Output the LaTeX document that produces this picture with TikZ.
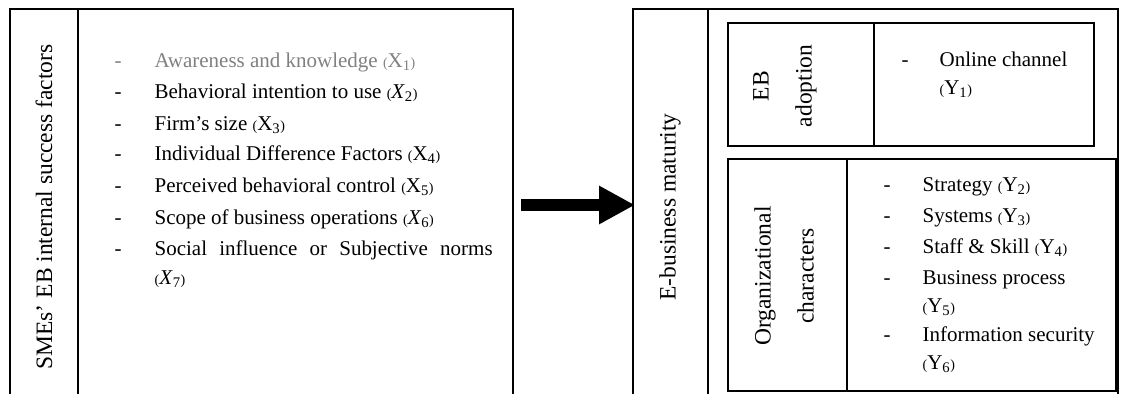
\documentclass[tikz,border=0pt]{standalone}
\usepackage{fontspec}
\setmainfont{Liberation Serif}
\usetikzlibrary{arrows.meta}

% small brackets round a variable, as in (X_1)
\newcommand{\smallbr}[1]{{\fontsize{14}{14}\selectfont#1}}
\newcommand{\subvar}[2]{\smallbr{(}#1\textsubscript{#2}\smallbr{)}}

\begin{document}
\begin{tikzpicture}[x=1pt, y=-1pt, line width=1.3pt,
    item/.style={anchor=base west, inner sep=0pt, font=\fontsize{21}{31}\selectfont},
    dashmark/.style={anchor=base, inner sep=0pt, font=\fontsize{21}{31}\selectfont},
    sidelabel/.style={rotate=90, align=center, inner sep=0pt, font=\fontsize{23.5}{43}\selectfont},
    bigarrow/.style={line width=12pt, -{Triangle[length=36pt, width=36pt]}}]
    \useasboundingbox (0,0) rectangle (1136,394);

    % --- left: internal success factors ---
    \draw (10,394) -- (10,9) -- (513,9) -- (513,394);
    \draw (78,9) -- (78,394);
    \node[sidelabel] (smes) at (44,207) {SMEs' EB internal success factors};

    \node[dashmark, gray] (d1) at (118,67) {-};
    \node[item, gray] (x1) at (154,67) {Awareness and knowledge \subvar{X}{1}};
    \node[dashmark] (d2) at (118,98) {-};
    \node[item] (x2) at (154,98) {Behavioral intention to use \subvar{\textit{X}}{2}};
    \node[dashmark] (d3) at (118,130) {-};
    \node[item] (x3) at (154,130) {Firm's size \subvar{X}{3}};
    \node[dashmark] (d4) at (118,160) {-};
    \node[item] (x4) at (154,160) {Individual Difference Factors \subvar{X}{4}};
    \node[dashmark] (d5) at (118,192) {-};
    \node[item] (x5) at (154,192) {Perceived behavioral control \subvar{X}{5}};
    \node[dashmark] (d6) at (118,224) {-};
    \node[item] (x6) at (154,224) {Scope of business operations \subvar{\textit{X}}{6}};
    \node[dashmark] (d7) at (118,255) {-};
    \node[item] (x7) at (154,255) {\hbox to 338pt{Social\hfill influence\hfill or\hfill Subjective\hfill norms}};
    \node[item] (x7b) at (154,284) {\subvar{\textit{X}}{7}};

    % --- right: e-business maturity ---
    \draw (633,394) -- (633,9) -- (1118,9) -- (1118,394);
    \draw (708,9) -- (708,394);
    \node[sidelabel] (ebm) at (670,207) {E-business maturity};

    % EB adoption
    \draw (728,23) rectangle (1094,146);
    \draw (874,23) -- (874,146);
    \node[sidelabel] (ebad) at (785,86) {EB\\adoption};
    \node[dashmark] (dy1) at (905,66) {-};
    \node[item] (y1) at (939,66) {Online channel};
    \node[item] (y1b) at (939,94) {\subvar{Y}{1}};

    % organizational characters
    \draw (728,159) rectangle (1116,391);
    \draw (847,159) -- (847,391);
    \node[sidelabel] (orgc) at (784,276) {Organizational\\characters};
    \node[dashmark] (dy2) at (887,191) {-};
    \node[item] (y2) at (922,191) {Strategy \subvar{Y}{2}};
    \node[dashmark] (dy3) at (887,222) {-};
    \node[item] (y3) at (922,222) {Systems \subvar{Y}{3}};
    \node[dashmark] (dy4) at (887,253) {-};
    \node[item] (y4) at (922,253) {Staff \& Skill \subvar{Y}{4}};
    \node[dashmark] (dy5) at (887,284) {-};
    \node[item] (y5) at (922,284) {Business process};
    \node[item] (y5b) at (922,312) {\subvar{Y}{5}};
    \node[dashmark] (dy6) at (887,341) {-};
    \node[item] (y6) at (922,341) {Information security};
    \node[item] (y6b) at (922,369) {\subvar{Y}{6}};

    % --- arrow between the two sides ---
    \coordinate (leftside) at (513,205);
    \coordinate (rightside) at (633,205);
    \draw[bigarrow] ([xshift=8pt]leftside) -- ([xshift=2pt]rightside);
\end{tikzpicture}
\end{document}
